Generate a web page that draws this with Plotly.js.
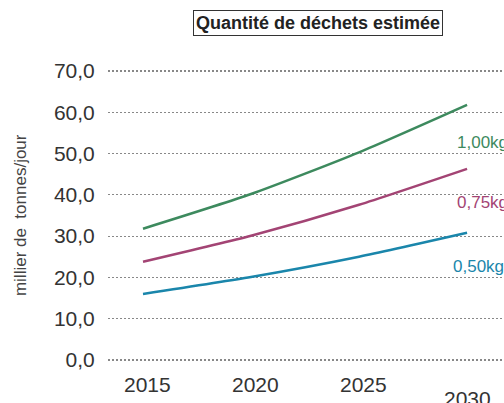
<!DOCTYPE html>
<html>
<head>
<meta charset="utf-8">
<script src="https://cdn.plot.ly/plotly-3.0.1.min.js"></script>
<style>html,body{margin:0;padding:0;background:#fff;}#chart{width:504px;height:403px;}</style>
</head>
<body>
<div id="chart"></div>
<script>
const years = [2015, 2020, 2025, 2030];
const xTickLabels = ["2015", "2020", "2025", "2030"];
const seriesNames = ["1,00kg", "0,75kg", "0,50kg"];
const seriesColors = ["#3d8a5e", "#a34474", "#1a86ab"];
const green100 = [31.8, 40.2, 50.3, 61.8];
const magenta75 = [23.8, 30.1, 37.6, 46.3];
const blue50 = [16.0, 20.1, 25.0, 30.8];
const yTickVals = [0, 10, 20, 30, 40, 50, 60, 70];
const titleText = "Quantité de déchets estimée";
const yTitleText = "millier de  tonnes/jour";

const allSeries = [green100, magenta75, blue50];
const FONT = "Liberation Sans, Arial, Helvetica, sans-serif";
const labelShiftY = [-38, -34, -34];
const labelShiftX = [-12, -12, -16];

const traces = allSeries.map((vals, i) => ({
  x: years, y: vals, type: "scatter", mode: "lines",
  line: {color: seriesColors[i], width: 2.5, shape: "spline", smoothing: 0.6},
  hoverinfo: "skip", showlegend: false, cliponaxis: false
}));

const annotations = [];
// title box
annotations.push({
  text: "<b>" + titleText + "</b>", xref: "paper", yref: "paper",
  x: 0.531, y: 1.0, yshift: 37, xanchor: "center", yanchor: "middle", showarrow: false,
  font: {family: FONT, size: 18, color: "#222"},
  bordercolor: "#333", borderwidth: 1, borderpad: 2
});
// y title
annotations.push({
  text: yTitleText, xref: "paper", yref: "paper", x: -0.222, y: 0.5,
  xanchor: "center", yanchor: "middle", textangle: -90, showarrow: false,
  font: {family: FONT, size: 17, color: "#444"}
});
// series end labels
allSeries.forEach((vals, i) => {
  annotations.push({
    text: seriesNames[i], x: years[years.length - 1], y: vals[vals.length - 1],
    xref: "x", yref: "y", xanchor: "left", yanchor: "middle", showarrow: false,
    xshift: labelShiftX[i], yshift: labelShiftY[i],
    font: {family: FONT, size: 17, color: seriesColors[i]}
  });
});
// x tick labels
years.forEach((yr, i) => {
  annotations.push({
    text: xTickLabels[i], x: yr, xref: "x", yref: "paper", y: 0,
    xanchor: "center", yanchor: "middle", showarrow: false,
    xshift: i === 3 ? 0 : 4, yshift: i === 3 ? -28 : -14,
    font: {family: FONT, size: 21, color: "#333"}
  });
});

const layout = {
  width: 504, height: 403,
  margin: {l: 108, r: 0, t: 60, b: 33, pad: 0},
  paper_bgcolor: "#fff", plot_bgcolor: "#fff",
  separators: ", ",
  font: {family: FONT, color: "#333"},
  xaxis: {
    range: [2013.38, 2031.71], showgrid: false, zeroline: false,
    showticklabels: false, ticks: "", showline: false, fixedrange: true
  },
  yaxis: {
    range: [-2.42, 72.66], tickvals: yTickVals, tickformat: ".1f",
    showgrid: true, gridcolor: "#888", griddash: "1.5px,2.5px", gridwidth: 1.2,
    zeroline: false, showline: false,
    ticks: "outside", ticklen: 8, tickcolor: "rgba(0,0,0,0)",
    tickfont: {family: FONT, size: 21, color: "#333"}, fixedrange: true
  },
  annotations: annotations
};

Plotly.newPlot("chart", traces, layout, {displayModeBar: false, staticPlot: true});
</script>
</body>
</html>
